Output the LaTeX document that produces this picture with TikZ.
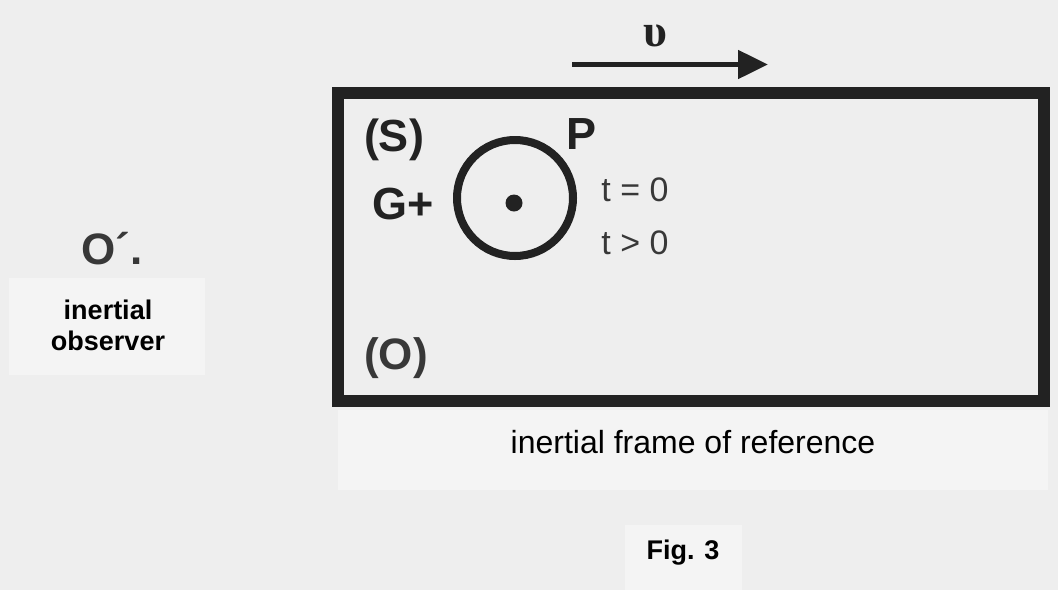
\documentclass[tikz,border=0pt]{standalone}
\usepackage{fontspec}
\setmainfont{Liberation Sans}
\newfontfamily\greekserif{Liberation Serif}
\usepackage{tikz}
\usepackage{xcolor}
\usetikzlibrary{arrows.meta, positioning}
\definecolor{cInk}{RGB}{34,34,34}
\definecolor{cGrey}{RGB}{56,56,56}
\definecolor{cPaper}{RGB}{238,238,238}
\definecolor{cPatch}{RGB}{244,244,244}
\tikzset{
	bigbold/.style={font=\fontsize{45}{45}\selectfont\bfseries, text=cInk, inner sep=0pt},
	greybold/.style={font=\fontsize{44}{44}\selectfont\bfseries, text=cGrey, inner sep=0pt},
	timelbl/.style={font=\fontsize{34}{34}\selectfont, text=cGrey, inner sep=0pt},
	smallbold/.style={font=\fontsize{27}{31}\selectfont\bfseries, align=center, inner sep=0pt},
	caption/.style={font=\fontsize{32}{32}\selectfont, inner sep=0pt},
	velarrow/.style={-{Triangle[length=30pt, width=28pt]}, line width=5pt, draw=cInk},
	% the moving frame and the charged sphere
	framebox/.style={draw=cInk, line width=12pt, minimum width=706pt, minimum height=308pt, inner sep=0pt},
	sphere/.style={circle, draw=cInk, line width=8pt, minimum size=116pt, inner sep=0pt},
	centre/.style={circle, fill=cInk, minimum size=17pt, inner sep=0pt},
}

\begin{document}
\begin{tikzpicture}[x=1pt, y=-1pt]
	\fill[cPaper] (0,0) rectangle (1058,590);
	\useasboundingbox (0,0) rectangle (1058,590);
	% lighter scan patches
	\fill[cPatch] (9,278) rectangle (205,375);
	\fill[cPatch] (338,410) rectangle (1048,490);
	\fill[cPatch] (625,525) rectangle (742,590);

	\node[framebox] (frame) at (690.5,247) {};
	\node[sphere] (ball) at (515,198) {};
	\node[centre] (dot) at (514,203) {};

	\coordinate (vstart) at (572,64.5);
	\coordinate (vend) at (768,64.5);
	\draw[velarrow] (vstart) -- (vend);
	\node[font=\fontsize{46}{46}\selectfont\greekserif\bfseries, text=cInk, inner sep=0pt] (vel) at (655,36) {υ};

	\node[bigbold] (sysS) at (394,140) {(S)};
	\node[bigbold] (pt) at (582,134) {P};
	\node[bigbold] (charge) at (403,204) {G+};
	\node[timelbl] (tzero) at (635,190) {t = 0};
	\node[timelbl] (tpos) at (635,243) {t > 0};
	\node[greybold] (orig) at (396,358) {(O)};

	\node[greybold] (obsO) at (112,249) {O´.};
	\node[smallbold] (obslbl) at (108,325) {inertial\\observer};
	\node[caption] (framelbl) at (693,442) {inertial frame of reference};
	\node[smallbold] (fig) at (683,553) {Fig. 3};
\end{tikzpicture}
\end{document}
